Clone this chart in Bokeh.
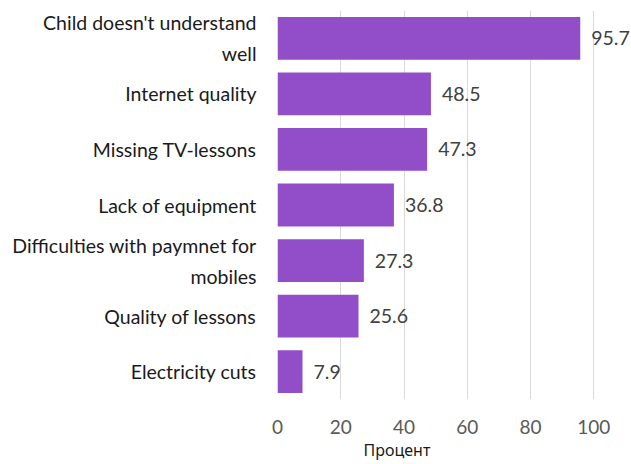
from bokeh.plotting import figure
from bokeh.models import ColumnDataSource, FixedTicker, Title, FactorRange, Range1d
from bokeh.core.properties import value
from bokeh.embed import file_html
from bokeh.resources import INLINE

categories = ["Child doesn't understand\nwell", "Internet quality", "Missing TV-lessons",
              "Lack of equipment", "Difficulties with paymnet for\nmobiles",
              "Quality of lessons", "Electricity cuts"]
values = [95.7, 48.5, 47.3, 36.8, 27.3, 25.6, 7.9]
x_ticks = [0, 20, 40, 60, 80, 100]
axis_title = "Процент"

FONT = "Lato"
BAR = "#914EC8"

src = ColumnDataSource(dict(cat=categories, val=values, lab=[f"{v:.1f}" for v in values]))

p = figure(width=631, height=460, output_backend="svg", toolbar_location=None,
           x_range=Range1d(0, 111.9), y_range=FactorRange(factors=categories[::-1]),
           min_border_left=277, min_border_right=0, min_border_top=10, min_border_bottom=58)
p.outline_line_color = None

p.hbar(y="cat", right="val", left=0, height=0.77, source=src, fill_color=BAR, line_color=None)
p.text(x="val", y="cat", text="lab", source=src, x_offset=11, text_baseline="middle",
       text_align="left", text_font=value(FONT), text_font_size="19.5px", text_color="#404040")

p.xgrid.ticker = FixedTicker(ticks=x_ticks)
p.xgrid.grid_line_color = "#d9d9d9"
p.ygrid.visible = False

p.xaxis.ticker = FixedTicker(ticks=x_ticks)
p.xaxis.axis_line_color = None
p.xaxis.major_tick_line_color = None
p.xaxis.minor_tick_line_color = None
p.xaxis.major_label_text_color = "#595959"
p.xaxis.major_label_text_font = FONT
p.xaxis.major_label_text_font_size = "19px"
p.xaxis.major_label_standoff = 14

p.yaxis.axis_line_color = None
p.yaxis.major_tick_line_color = None
p.yaxis.minor_tick_line_color = None
p.yaxis.major_label_text_color = "#1a1a1a"
p.yaxis.major_label_text_font = FONT
p.yaxis.major_label_text_font_size = "19.5px"
p.yaxis.major_label_text_line_height = 1.35
p.yaxis.major_label_standoff = 15

p.add_layout(Title(text=axis_title, align="left", offset=86, text_font="Noto Sans",
                   text_font_size="16px", text_font_style="normal", text_color="#1a1a1a",
                   standoff=0), "below")

open("out.html", "w").write(file_html(p, INLINE))
